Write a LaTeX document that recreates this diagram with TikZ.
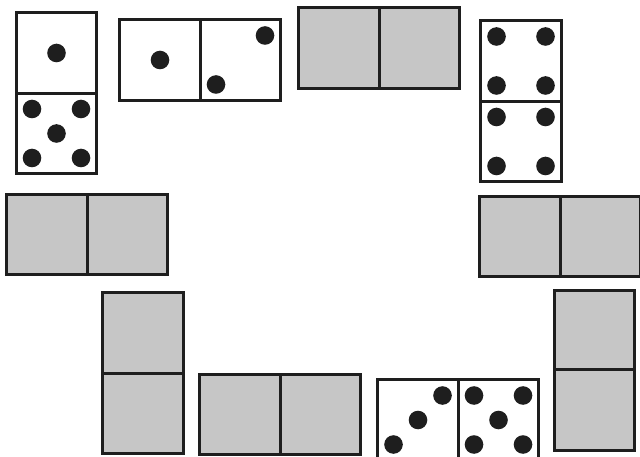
\documentclass[tikz,border=0pt]{standalone}
\usepackage{xcolor}
\usepackage{tikz}
\usetikzlibrary{positioning}
\definecolor{ink}{HTML}{1E1E1E}
\definecolor{tileGray}{HTML}{C6C6C6}

\begin{document}
\begin{tikzpicture}[x=0.03cm,y=-0.03cm,
  face/.style={rectangle,draw=ink,line width=0.09cm,fill=white,
    minimum size=2.415cm,inner sep=0pt,outer sep=0pt},
  blank/.style={face,fill=tileGray},
  pip/.style={ink}]
\def\po{24.5}
\def\pr{9.3}
\useasboundingbox (0,0) rectangle (640,457);
% --- dominoes with pips ---
\node[face] (d1a) at (56.5,53) {};
\node[face] (d1b) at (56.5,133.5) {};
\node[face] (d2a) at (160,60) {};
\node[face] (d2b) at (240.5,60) {};
\node[face] (d4a) at (521,61) {};
\node[face] (d4b) at (521,141.5) {};
\node[face] (d10a) at (418,420) {};
\node[face] (d10b) at (498.5,420) {};
% --- blank dominoes ---
\node[blank] (d3a) at (339,48) {};
\node[blank] (d3b) at (419.5,48) {};
\node[blank] (d5a) at (47,234.5) {};
\node[blank] (d5b) at (127.5,234.5) {};
\node[blank] (d6a) at (143,333) {};
\node[blank] (d6b) at (143,413.5) {};
\node[blank] (d7a) at (240,414.5) {};
\node[blank] (d7b) at (320.5,414.5) {};
\node[blank] (d8a) at (520,236.5) {};
\node[blank] (d8b) at (600.5,236.5) {};
\node[blank] (d9a) at (594.5,330.5) {};
\node[blank] (d9b) at (594.5,410) {};
% --- pips ---
\foreach \f in {d1a,d2a}
  \fill[pip] (\f.center) circle[radius=\pr];
\foreach \f/\u/\v in {d1b/-1/-1,d1b/1/-1,d1b/0/0,d1b/-1/1,d1b/1/1,
    d2b/1/-1,d2b/-1/1,
    d4a/-1/-1,d4a/1/-1,d4a/-1/1,d4a/1/1,
    d4b/-1/-1,d4b/1/-1,d4b/-1/1,d4b/1/1,
    d10a/1/-1,d10a/0/0,d10a/-1/1,
    d10b/-1/-1,d10b/1/-1,d10b/0/0,d10b/-1/1,d10b/1/1}
  \fill[pip] ([shift={(\u*\po,\v*\po)}]\f.center) circle[radius=\pr];
\end{tikzpicture}
\end{document}
